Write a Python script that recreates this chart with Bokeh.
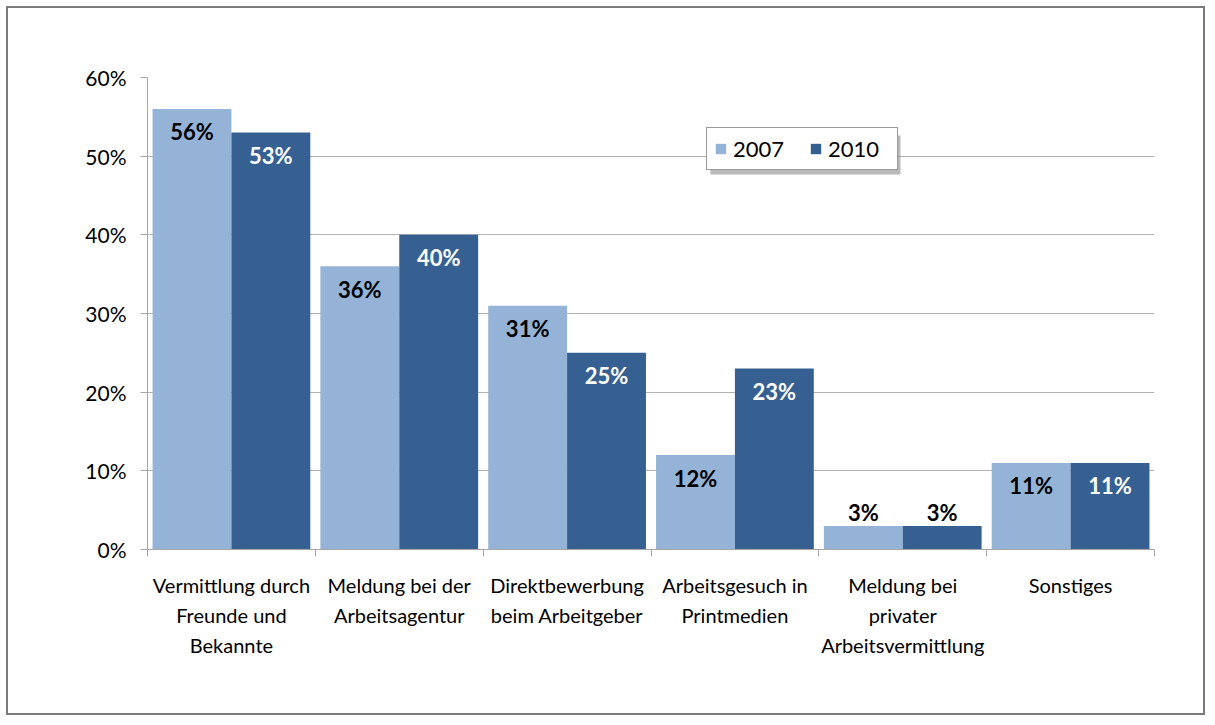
import numpy as np
from bokeh.plotting import figure
from bokeh.models import ColumnDataSource, FixedTicker, Legend, LegendItem, Range1d, BoxAnnotation
from bokeh.core.properties import value
from bokeh.embed import file_html
from bokeh.resources import INLINE

categories = [
    "Vermittlung durch\nFreunde und\nBekannte",
    "Meldung bei der\nArbeitsagentur",
    "Direktbewerbung\nbeim Arbeitgeber",
    "Arbeitsgesuch in\nPrintmedien",
    "Meldung bei\nprivater\nArbeitsvermittlung",
    "Sonstiges",
]
series_names = ["2007", "2010"]
values_2007 = [56, 36, 31, 12, 3, 11]
values_2010 = [53, 40, 25, 23, 3, 11]
y_ticks = [0, 10, 20, 30, 40, 50, 60]
y_tick_labels = ["0%", "10%", "20%", "30%", "40%", "50%", "60%"]

FONT = "Lato"
colors = ["#95B3D7", "#376092"]
label_colors_inside = ["#000000", "#ffffff"]

n = len(categories)
idx = np.arange(n)

p = figure(
    width=1199, height=709,
    x_range=Range1d(0, n), y_range=Range1d(0, 60),
    output_backend="svg", toolbar_location=None,
    min_border_left=139, min_border_top=69, min_border_right=53, min_border_bottom=168,
)
p.styles = {"border": "2px solid #7a7a7a", "margin-left": "6px", "margin-top": "6px"}
p.outline_line_color = None
p.background_fill_color = "white"

bar_w = 0.47
offsets = [0.265, 0.735]
renderers = []
for s, (name, vals) in enumerate(zip(series_names, [values_2007, values_2010])):
    xs = idx + offsets[s]
    src = ColumnDataSource(dict(
        x=xs, top=vals,
        txt=[f"{v}%" for v in vals],
        yoff=[23 if v >= 5 else -13 for v in vals],
        tcol=[label_colors_inside[s] if v >= 5 else "#000000" for v in vals],
    ))
    r = p.vbar(x="x", top="top", width=bar_w, bottom=0, source=src,
               fill_color=colors[s], line_color=None)
    renderers.append(r)
    p.text(x="x", y="top", text="txt", source=src, y_offset="yoff",
           text_align="center", text_baseline="middle", text_color="tcol",
           text_font=value(FONT), text_font_style="bold", text_font_size="22px")

# y axis
p.yaxis.ticker = FixedTicker(ticks=y_ticks)
p.yaxis.major_label_overrides = {t: l for t, l in zip(y_ticks, y_tick_labels)}
p.yaxis.major_label_text_font = FONT
p.yaxis.major_label_text_font_size = "21px"
p.yaxis.major_label_text_color = "#000000"
p.yaxis.axis_line_color = "#a6a6a6"
p.yaxis.major_tick_line_color = "#a6a6a6"
p.yaxis.major_tick_out = 7
p.yaxis.major_tick_in = 0
p.yaxis.minor_tick_line_color = None
p.yaxis.major_label_standoff = 14

# x axis
p.xaxis.ticker = FixedTicker(ticks=list(idx + 0.5), minor_ticks=list(range(n + 1)))
p.xaxis.major_label_overrides = {float(i + 0.5): c for i, c in enumerate(categories)}
p.xaxis.major_label_text_font = FONT
p.xaxis.major_label_text_font_size = "20px"
p.xaxis.major_label_text_color = "#000000"
p.xaxis.major_label_text_line_height = 1.25
p.xaxis.axis_line_color = "#a6a6a6"
p.xaxis.major_tick_line_color = None
p.xaxis.minor_tick_line_color = "#a6a6a6"
p.xaxis.minor_tick_out = 7
p.xaxis.minor_tick_in = 0
p.xaxis.major_label_standoff = 16

p.xgrid.grid_line_color = None
p.ygrid.grid_line_color = "#b3b3b3"
p.ygrid.ticker = FixedTicker(ticks=y_ticks)

# legend drop shadow (screen units, relative to plot frame, y upward)
shadow = BoxAnnotation(left=563, right=753, top=414, bottom=375,
                       left_units="screen", right_units="screen",
                       top_units="screen", bottom_units="screen",
                       fill_color="#808080", fill_alpha=0.55, line_color=None)
p.add_layout(shadow)

legend = Legend(
    items=[LegendItem(label=nm, renderers=[r]) for nm, r in zip(series_names, renderers)],
    orientation="horizontal", location=(559, 379),
    label_text_font=FONT, label_text_font_size="22px", label_text_color="#000000",
    glyph_width=13, glyph_height=13, spacing=14, padding=7, margin=0,
    label_width=62,
    border_line_color="#333333", border_line_width=1,
    background_fill_color="white", background_fill_alpha=1.0,
    label_standoff=6,
)
p.add_layout(legend, "center")

open("out.html", "w").write(file_html(p, INLINE))
